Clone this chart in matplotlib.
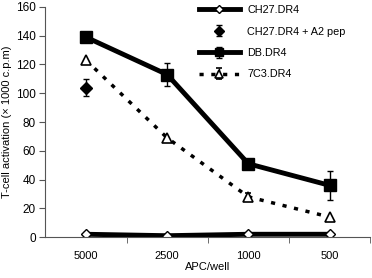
import matplotlib
matplotlib.use("Agg")
import matplotlib.pyplot as plt
import numpy as np

plt.rcParams["font.family"] = ["Liberation Sans", "DejaVu Sans"]

apc = ["5000", "2500", "1000", "500"]

ch27 = [2, 1, 2, 2]
ch27_a2 = [104]
ch27_a2_err = [6]
db = [139, 113, 51, 36]
db_err = [0, 8, 0, 10]
c7c3 = [123, 69, 28, 14]
c7c3_err = [0, 0, 3, 0]

x = np.arange(len(apc))

fig = plt.figure(figsize=(3.72, 2.78), dpi=100)
ax = fig.add_axes([0.122, 0.147, 0.873, 0.828])

ax.errorbar(x, ch27, color="black", lw=3.5, marker="D", ms=5,
	mfc="white", mec="black", mew=1, label="CH27.DR4")
ax.errorbar(x[:1], ch27_a2, yerr=ch27_a2_err, color="black", ls="none",
	marker="D", ms=6, capsize=2, elinewidth=1, label="CH27.DR4 + A2 pep")
ax.errorbar(x, db, yerr=db_err, color="black", lw=3.5, marker="s", ms=8,
	capsize=2, elinewidth=1, label="DB.DR4")
ax.errorbar(x, c7c3, yerr=c7c3_err, color="black", lw=2.5, ls=(0, (1.2, 2.2)),
	marker="^", ms=7, mfc="white", mec="black", mew=1.2, capsize=2,
	elinewidth=1, label="7C3.DR4")

ax.set_xlim(-0.5, 3.5)
ax.set_ylim(0, 160)
ax.set_yticks(range(0, 161, 20))
ax.set_xticks(x)
ax.set_xticklabels(apc)
ax.set_xticks(np.arange(0.5, 4, 1), minor=True)
ax.tick_params(axis="x", which="major", length=0, labelsize=8, pad=10)
ax.tick_params(axis="x", which="minor", length=4, color="#555555")
ax.tick_params(axis="y", labelsize=8.5, length=4, color="#555555", pad=3)
for s in ["top", "right"]:
	ax.spines[s].set_visible(False)
for s in ["left", "bottom"]:
	ax.spines[s].set_color("#555555")

ax.set_xlabel("APC/well", fontsize=8, labelpad=1)
ax.set_ylabel("T-cell activation (\u00d7 1000 c.p.m)", fontsize=8, labelpad=3)

ax.legend(loc="upper right", bbox_to_anchor=(0.955, 1.05), frameon=False,
	fontsize=7.8, handlelength=3.8, handletextpad=0.7, labelspacing=1.05,
	markerscale=0.8)

plt.savefig("out.png")
